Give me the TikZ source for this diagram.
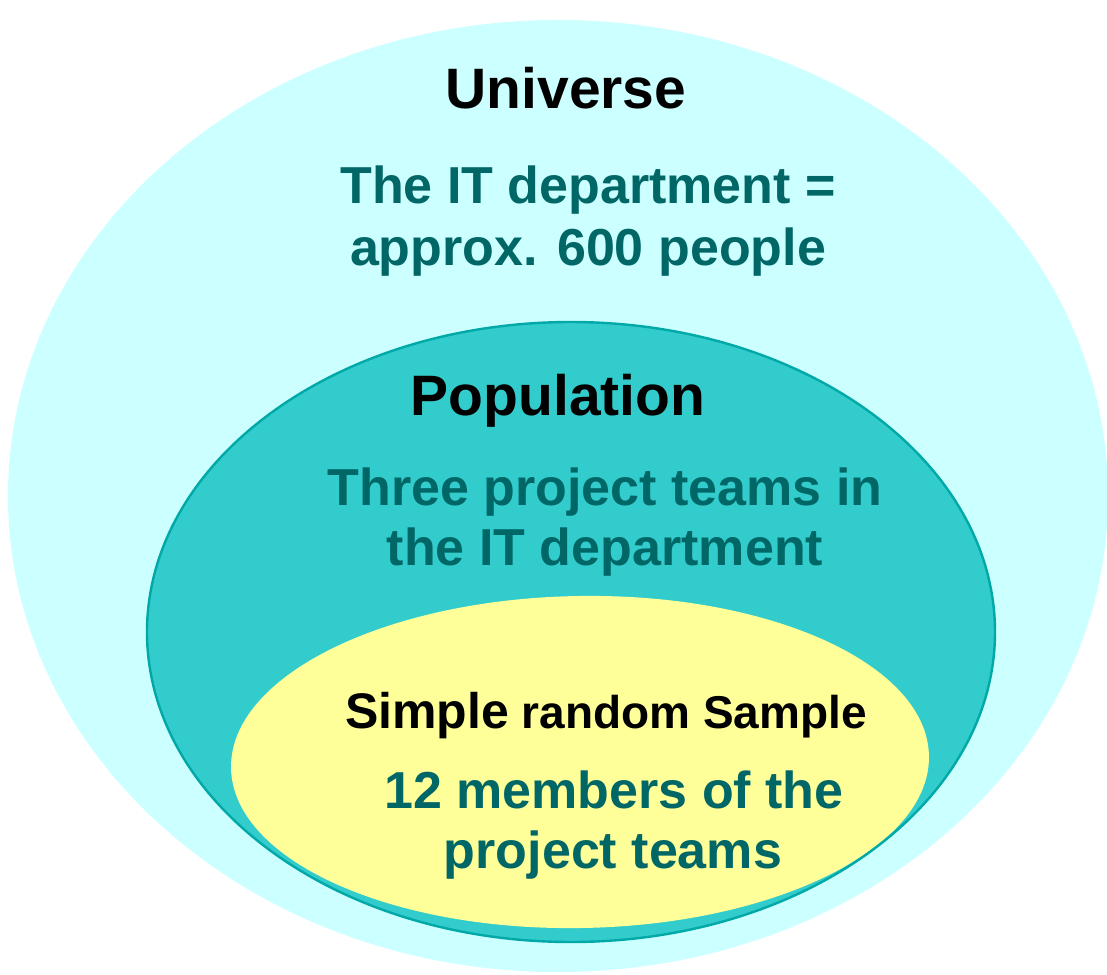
\documentclass[tikz,border=0pt]{standalone}
\usepackage{fontspec}
\setmainfont{Liberation Sans}
\definecolor{universefill}{HTML}{CCFFFF}
\definecolor{popfill}{HTML}{33CCCC}
\definecolor{popline}{HTML}{00A8A8}
\definecolor{samplefill}{HTML}{FFFF99}
\definecolor{bodytext}{HTML}{006666}
\tikzset{
  title/.style={anchor=base, inner sep=0pt, font=\bfseries\fontsize{57}{60}\selectfont, text=black},
  body/.style={anchor=base, inner sep=0pt, font=\bfseries\fontsize{52}{56}\selectfont, text=bodytext},
}
\begin{document}
\begin{tikzpicture}[x=1pt,y=-1pt]
  \useasboundingbox (0,0) rectangle (1107,974);

  % universe
  \fill[universefill] (558,496) ellipse [x radius=550, y radius=476];

  % population
  \fill[popfill] (571,632) ellipse [x radius=424, y radius=310];

  % sample, kept inside the population
  \begin{scope}
    \clip (571,632) ellipse [x radius=423, y radius=309];
    \fill[samplefill, rotate around={1:(580,762)}] (580,762) ellipse [x radius=349, y radius=166];
  \end{scope}
  \draw[popline, line width=2.4pt] (571,632) ellipse [x radius=424, y radius=310];

  % labels
  \node[title] (uni) at (566,108) {Universe};
  \node[body] (uni1) at (588,203) {The IT department =};
  \node[body] (uni2) at (588,265) {approx. 600 people};

  \node[title] (pop) at (558,415) {Population};
  \node[body] (pop1) at (605,505) {Three project teams in};
  \node[body] (pop2) at (605,565) {the IT department};

  \node[anchor=base, inner sep=0pt, text=black] (smp) at (606,728)
    {\bfseries\fontsize{50}{54}\selectfont Simple\fontsize{46}{50}\selectfont\ random Sample};
  \node[body] (smp1) at (614,808) {12 members of the};
  \node[body] (smp2) at (613,868) {project teams};
\end{tikzpicture}
\end{document}
